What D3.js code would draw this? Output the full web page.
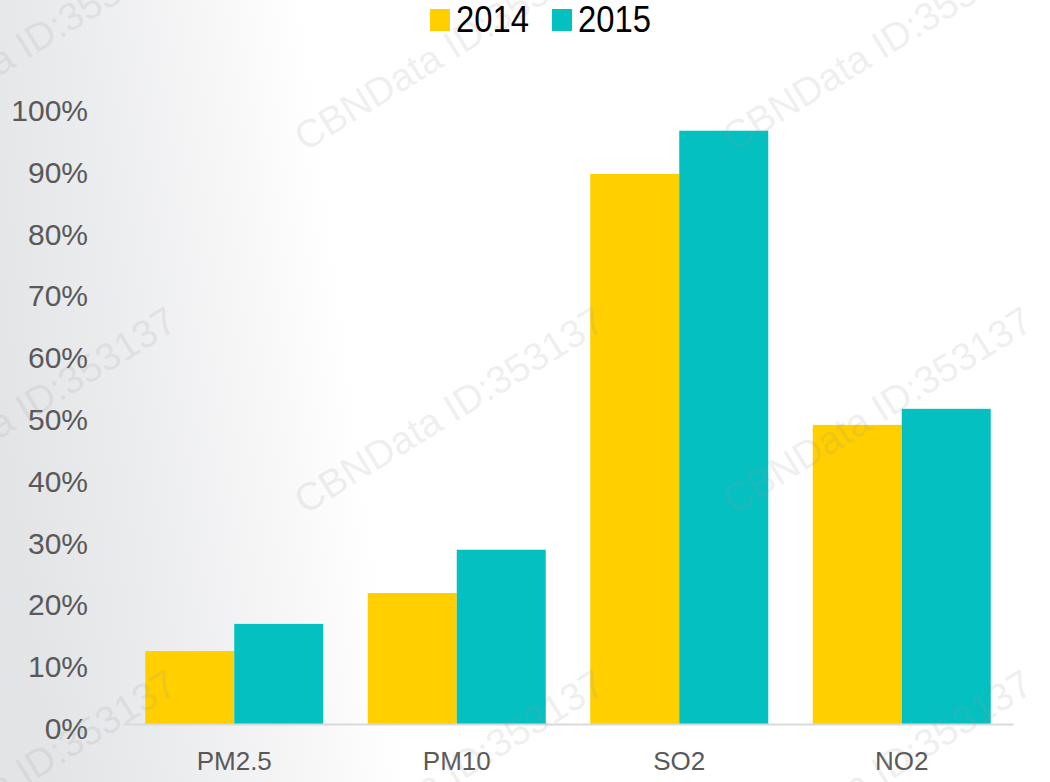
<!DOCTYPE html>
<html>
<head>
<meta charset="utf-8">
<script src="https://cdn.jsdelivr.net/npm/d3@7"></script>
<style>
  html, body { margin: 0; padding: 0; background: #fff; }
  svg { display: block; }
</style>
</head>
<body>
<div id="chart"></div>
<script>
const categories = ["PM2.5", "PM10", "SO2", "NO2"];
const years = ["2014", "2015"];
const values2014 = [0.118, 0.212, 0.89, 0.484];
const values2015 = [0.162, 0.282, 0.96, 0.51];
const yTicks = [0, 0.1, 0.2, 0.3, 0.4, 0.5, 0.6, 0.7, 0.8, 0.9, 1.0];
const colors = ["#ffcf00", "#04c0c1"];

const width = 1050, height = 782;
const margin = { top: 106, right: 37, bottom: 58, left: 123 };

const svg = d3.select("#chart").append("svg")
  .attr("width", width)
  .attr("height", height);

// background: gray on the left fading to white
const defs = svg.append("defs");
const grad = defs.append("linearGradient")
  .attr("id", "bg").attr("x1", "0%").attr("y1", "55%").attr("x2", "100%").attr("y2", "45%");
grad.append("stop").attr("offset", "0%").attr("stop-color", "#e3e4e6");
grad.append("stop").attr("offset", "12%").attr("stop-color", "#ebecee");
grad.append("stop").attr("offset", "24%").attr("stop-color", "#f6f6f7");
grad.append("stop").attr("offset", "34%").attr("stop-color", "#ffffff");
grad.append("stop").attr("offset", "100%").attr("stop-color", "#ffffff");
svg.append("rect").attr("width", width).attr("height", height).attr("fill", "url(#bg)");

const x0 = d3.scaleBand()
  .domain(categories)
  .range([margin.left, width - margin.right])
  .paddingInner(0.2)
  .paddingOuter(0.1);

const x1 = d3.scaleBand()
  .domain(years)
  .range([0, x0.bandwidth()]);

const y = d3.scaleLinear()
  .domain([0, 1])
  .range([height - margin.bottom, margin.top]);

const rows = categories.map((c, i) => ({ cat: c, vals: [values2014[i], values2015[i]] }));

const groups = svg.append("g").selectAll("g")
  .data(rows)
  .join("g")
  .attr("transform", d => `translate(${x0(d.cat)},0)`);

groups.selectAll("rect")
  .data(d => d.vals.map((v, j) => ({ year: years[j], v: v, j: j })))
  .join("rect")
  .attr("x", d => x1(d.year))
  .attr("y", d => y(d.v))
  .attr("width", x1.bandwidth())
  .attr("height", d => y(0) - y(d.v))
  .attr("fill", d => colors[d.j]);

// x axis
const xAxis = svg.append("g")
  .attr("transform", `translate(0,${y(0)})`)
  .call(d3.axisBottom(x0).tickSize(0).tickPadding(28));
xAxis.select(".domain").attr("stroke", "#d9d9d9").attr("stroke-width", 2);
xAxis.selectAll("text")
  .attr("font-family", "Liberation Sans, Arial, sans-serif")
  .attr("font-size", 26)
  .attr("fill", "#595959");

// y axis
const yAxis = svg.append("g")
  .attr("transform", `translate(${margin.left - 35},0)`)
  .call(d3.axisLeft(y).tickValues(yTicks).tickFormat(d3.format(".0%")).tickSize(0).tickPadding(0));
yAxis.select(".domain").remove();
yAxis.selectAll("text")
  .attr("font-family", "Liberation Sans, Arial, sans-serif")
  .attr("font-size", 30)
  .attr("fill", "#595959")
  .attr("dy", "0.48em");

// watermark, on top of the bars
const wm = svg.append("g").attr("class", "watermark").style("pointer-events", "none");
for (let c = -1; c < 3; c++) {
  for (let r = 0; r < 3; r++) {
    const wx = 305 + c * 428, wy = 152 + r * 363;
    wm.append("text")
      .attr("transform", `translate(${wx},${wy}) rotate(-31.7)`)
      .attr("font-family", "Liberation Sans, Arial, sans-serif")
      .attr("font-size", 39)
      .attr("fill", "#999")
      .attr("fill-opacity", 0.17)
      .text("CBNData ID:353137");
  }
}

// legend
const legend = svg.append("g").attr("transform", "translate(430,0)");
const li = legend.selectAll("g")
  .data(years)
  .join("g")
  .attr("transform", (d, i) => `translate(${i * 122},0)`);
li.append("rect")
  .attr("x", 0).attr("y", 9)
  .attr("width", 20).attr("height", 22)
  .attr("fill", (d, i) => colors[i]);
li.append("text")
  .attr("x", 26).attr("y", 32)
  .attr("font-family", "Liberation Sans Narrow, Liberation Sans, Arial, sans-serif")
  .attr("font-size", 36)
  .attr("textLength", 73)
  .attr("lengthAdjust", "spacingAndGlyphs")
  .attr("fill", "#000")
  .text(d => d);
</script>
</body>
</html>
